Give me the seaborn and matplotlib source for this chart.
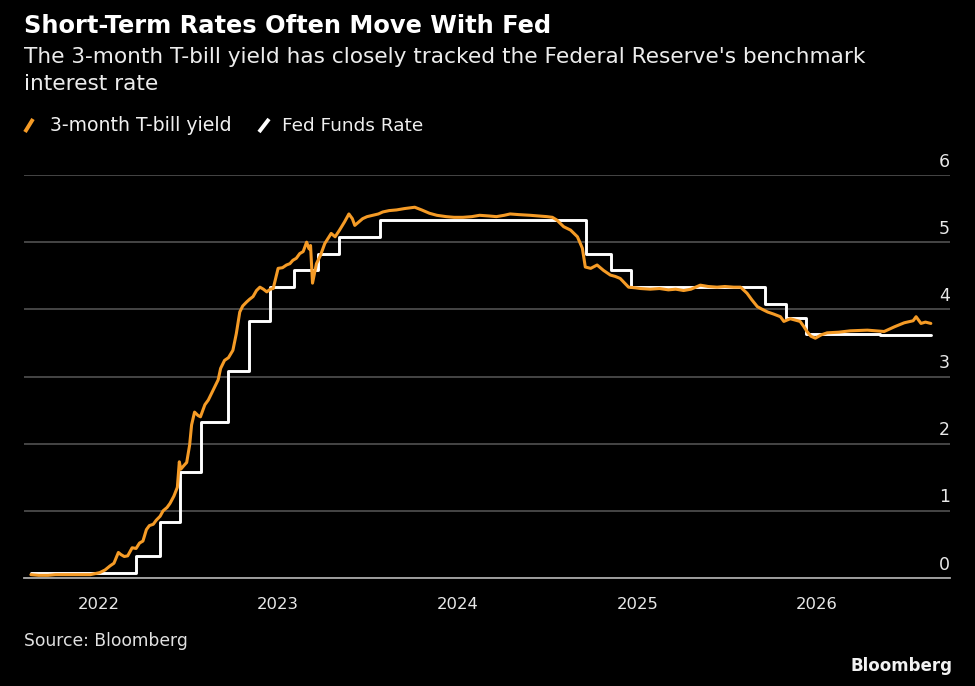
import matplotlib
matplotlib.use("Agg")
import matplotlib.pyplot as plt
import matplotlib.dates as mdates
from matplotlib.lines import Line2D
from matplotlib.ticker import FixedLocator
import seaborn as sns
import pandas as pd

# ---------------- data ----------------
tbill_dates = [
    "2021-08-16", "2021-09-01", "2021-09-20", "2021-10-05", "2021-10-25", "2021-11-10",
    "2021-11-30", "2021-12-15", "2022-01-03", "2022-01-14", "2022-01-24", "2022-02-01",
    "2022-02-10", "2022-02-15", "2022-02-22", "2022-03-01", "2022-03-10", "2022-03-18",
    "2022-03-25", "2022-04-01", "2022-04-08", "2022-04-14", "2022-04-22", "2022-04-28",
    "2022-05-06", "2022-05-12", "2022-05-20", "2022-05-26", "2022-06-03", "2022-06-10",
    "2022-06-14", "2022-06-17", "2022-06-24", "2022-06-29", "2022-07-05", "2022-07-09",
    "2022-07-15", "2022-07-22", "2022-07-27", "2022-08-05", "2022-08-12", "2022-08-22",
    "2022-09-01", "2022-09-06", "2022-09-14", "2022-09-22", "2022-10-01", "2022-10-08",
    "2022-10-15", "2022-10-21", "2022-10-29", "2022-11-04", "2022-11-11", "2022-11-18",
    "2022-11-25", "2022-12-02", "2022-12-09", "2022-12-16", "2022-12-22", "2023-01-01",
    "2023-01-10", "2023-01-18", "2023-01-25", "2023-01-31", "2023-02-07", "2023-02-14",
    "2023-02-21", "2023-02-28", "2023-03-05", "2023-03-08", "2023-03-12", "2023-03-20",
    "2023-03-28", "2023-04-06", "2023-04-12", "2023-04-19", "2023-04-27", "2023-05-06",
    "2023-05-16", "2023-05-25", "2023-06-01", "2023-06-06", "2023-06-14", "2023-06-22",
    "2023-07-01", "2023-07-13", "2023-07-24", "2023-08-02", "2023-08-15", "2023-08-30",
    "2023-09-15", "2023-10-06", "2023-10-20", "2023-11-05", "2023-11-20", "2023-12-09",
    "2023-12-25", "2024-01-12", "2024-01-30", "2024-02-15", "2024-03-05", "2024-03-20",
    "2024-04-05", "2024-04-17", "2024-05-05", "2024-05-28", "2024-06-15", "2024-07-01",
    "2024-07-12", "2024-07-21", "2024-08-04", "2024-08-18", "2024-09-01", "2024-09-11",
    "2024-09-17", "2024-09-28", "2024-10-11", "2024-10-24", "2024-11-07", "2024-11-17",
    "2024-11-27", "2024-12-14", "2024-12-28", "2025-01-07", "2025-01-27", "2025-02-15",
    "2025-03-05", "2025-03-20", "2025-04-05", "2025-04-20", "2025-05-09", "2025-05-25",
    "2025-06-12", "2025-06-28", "2025-07-16", "2025-07-30", "2025-08-12", "2025-08-22",
    "2025-09-02", "2025-09-12", "2025-09-23", "2025-10-05", "2025-10-19", "2025-10-26",
    "2025-11-08", "2025-11-18", "2025-11-28", "2025-12-05", "2025-12-12", "2025-12-20",
    "2025-12-29", "2026-01-10", "2026-01-22", "2026-02-15", "2026-03-10", "2026-04-14",
    "2026-05-18", "2026-06-08", "2026-06-28", "2026-07-16", "2026-07-22", "2026-08-01",
    "2026-08-10", "2026-08-21",
]
tbill_values = [
    0.05, 0.04, 0.04, 0.05, 0.05, 0.05,
    0.05, 0.05, 0.08, 0.12, 0.18, 0.22,
    0.38, 0.35, 0.32, 0.33, 0.45, 0.44,
    0.52, 0.55, 0.72, 0.78, 0.80, 0.86,
    0.92, 1.00, 1.05, 1.11, 1.22, 1.35,
    1.73, 1.62, 1.68, 1.72, 1.98, 2.28,
    2.47, 2.42, 2.40, 2.58, 2.65, 2.80,
    2.95, 3.12, 3.24, 3.28, 3.39, 3.64,
    3.96, 4.05, 4.11, 4.15, 4.19, 4.28,
    4.33, 4.30, 4.26, 4.30, 4.31, 4.61,
    4.62, 4.66, 4.68, 4.73, 4.76, 4.83,
    4.86, 5.00, 4.90, 4.95, 4.39, 4.68,
    4.80, 4.98, 5.05, 5.13, 5.08, 5.18,
    5.30, 5.42, 5.35, 5.25, 5.30, 5.35,
    5.38, 5.40, 5.42, 5.45, 5.47, 5.48,
    5.50, 5.52, 5.48, 5.43, 5.40, 5.38,
    5.37, 5.37, 5.38, 5.40, 5.39, 5.38,
    5.40, 5.42, 5.41, 5.40, 5.39, 5.38,
    5.37, 5.33, 5.23, 5.18, 5.08, 4.91,
    4.63, 4.61, 4.66, 4.58, 4.51, 4.49,
    4.46, 4.33, 4.32, 4.31, 4.30, 4.31,
    4.29, 4.30, 4.28, 4.30, 4.36, 4.34,
    4.33, 4.34, 4.33, 4.33, 4.24, 4.14,
    4.04, 4.00, 3.96, 3.93, 3.89, 3.82,
    3.86, 3.84, 3.82, 3.75, 3.67, 3.60,
    3.57, 3.62, 3.65, 3.66, 3.68, 3.69,
    3.67, 3.74, 3.80, 3.83, 3.89, 3.79,
    3.81, 3.79,
]

fed_dates = [
    "2021-08-16", "2022-03-17", "2022-05-05", "2022-06-16", "2022-07-28", "2022-09-22",
    "2022-11-03", "2022-12-15", "2023-02-02", "2023-03-23", "2023-05-04", "2023-07-27",
    "2024-09-19", "2024-11-08", "2024-12-19", "2025-09-18", "2025-10-30", "2025-12-11",
    "2026-05-10", "2026-08-21",
]
fed_values = [
    0.08, 0.33, 0.83, 1.58, 2.33, 3.08,
    3.83, 4.33, 4.58, 4.83, 5.08, 5.33,
    4.83, 4.58, 4.33, 4.08, 3.87, 3.64,
    3.62, 3.62,
]

series_labels = ["3-month T-bill yield", "Fed Funds Rate"]
y_ticks = [0, 1, 2, 3, 4, 5, 6]
x_years = [2022, 2023, 2024, 2025, 2026]

title = "Short-Term Rates Often Move With Fed"
subtitle = ["The 3-month T-bill yield has closely tracked the Federal Reserve's benchmark",
            "interest rate"]
source = "Source: Bloomberg"

# ---------------- style ----------------
ORANGE = "#f59b26"
WHITE = "#ffffff"
BG = "#000000"

sns.set_style("dark", {"axes.facecolor": BG, "figure.facecolor": BG})
plt.rcParams["font.family"] = ["DejaVu Sans"]

W, H = 975, 686
fig = plt.figure(figsize=(W / 100, H / 100), dpi=100, facecolor=BG)


def fx(px):
    return px / W


def fy(py):
    return 1 - py / H


ax = fig.add_axes([fx(24), fy(578), (950 - 24) / W, (578 - 175) / H])
ax.set_facecolor(BG)

tb = pd.DataFrame({"date": pd.to_datetime(tbill_dates), "value": tbill_values})
fd = pd.DataFrame({"date": pd.to_datetime(fed_dates), "value": fed_values})

sns.lineplot(data=fd, x="date", y="value", color=WHITE, linewidth=2.1,
             drawstyle="steps-post", estimator=None, ax=ax, legend=False, zorder=3)
sns.lineplot(data=tb, x="date", y="value", color=ORANGE, linewidth=2.2,
             estimator=None, ax=ax, legend=False, zorder=4)

ax.set_xlim(pd.Timestamp("2021-08-02"), pd.Timestamp("2026-09-29"))
ax.set_ylim(0, 6)
ax.set_xlabel("")
ax.set_ylabel("")

# grid / spines
ax.set_yticks(y_ticks)
ax.yaxis.grid(True, color="#4b4b4b", linewidth=1.3)
ax.xaxis.grid(False)
for s in ["top", "left", "right"]:
    ax.spines[s].set_visible(False)
ax.spines["bottom"].set_color("#a8a8a8")
ax.spines["bottom"].set_linewidth(1.3)
ax.tick_params(axis="y", length=0, labelleft=False, labelright=False)
for v in y_ticks:
    ax.annotate(str(v), xy=(1.0, v), xycoords=("axes fraction", "data"),
                xytext=(0, 6), textcoords="offset points", ha="right", va="baseline",
                fontsize=12.5, color="#e8e8e8", annotation_clip=False)

major = [pd.Timestamp(f"{y}-01-01") for y in x_years]
minor = pd.date_range("2021-09-01", "2026-08-01", freq="MS")
ax.xaxis.set_major_locator(FixedLocator(mdates.date2num(major)))
ax.xaxis.set_minor_locator(FixedLocator(mdates.date2num(minor)))
ax.set_xticklabels([str(y) for y in x_years])
ax.tick_params(axis="x", which="major", length=10, width=1.3, color="#bdbdbd",
               labelsize=11.8, labelcolor="#e8e8e8", pad=4)
ax.tick_params(axis="x", which="minor", length=6, width=1.1, color="#bdbdbd")

for line in ax.lines:
    line.set_clip_on(False)

# ---------------- texts ----------------
fig.text(fx(24), fy(33), title, fontsize=17.4, fontweight="bold", color=WHITE,
         ha="left", va="baseline")
fig.text(fx(24), fy(63), subtitle[0], fontsize=15.6, color="#ececec",
         ha="left", va="baseline")
fig.text(fx(24), fy(90), subtitle[1], fontsize=15.6, color="#ececec",
         ha="left", va="baseline")

# legend
fig.add_artist(Line2D([fx(25), fx(33)], [fy(132), fy(119)], color=ORANGE, lw=2.8,
                      solid_capstyle="butt"))
fig.text(fx(50), fy(131), series_labels[0], fontsize=13.6, color="#f0f0f0",
         ha="left", va="baseline")
fig.add_artist(Line2D([fx(259), fx(269)], [fy(132), fy(119)], color=WHITE, lw=2.8,
                      solid_capstyle="butt"))
fig.text(fx(282), fy(131), series_labels[1], fontsize=13.3, color="#f0f0f0",
         ha="left", va="baseline")

fig.text(fx(24), fy(646), source, fontsize=12.3, color="#e0e0e0", ha="left", va="baseline")
fig.text(fx(952), fy(671), "Bloomberg", fontsize=12, fontweight="bold", color="#f2f2f2",
         ha="right", va="baseline")

fig.savefig("out.png", dpi=100, facecolor=BG)
